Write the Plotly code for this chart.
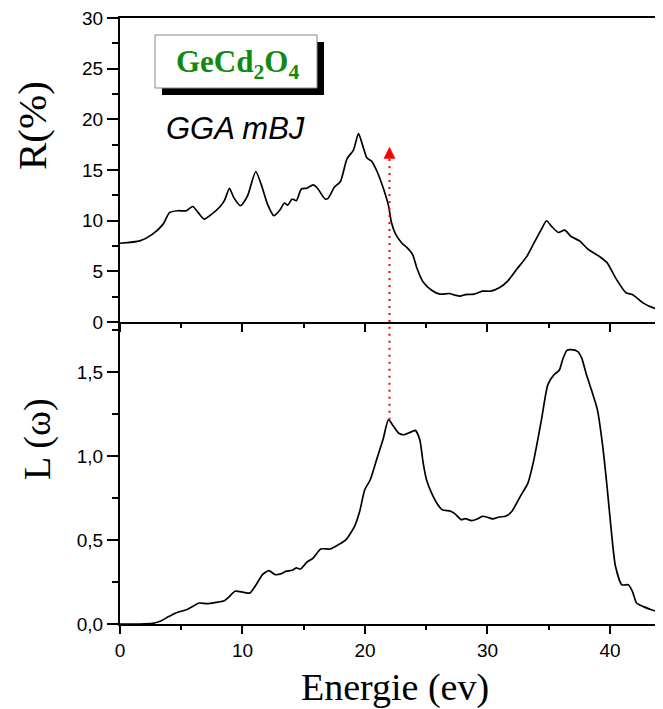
import plotly.graph_objects as go

# Reflectivity R(%) vs energy (top panel)
energy_r = [0, 1.62, 2.66, 3.52, 4.04, 4.73, 5.42, 5.94, 6.38, 6.87, 7.49, 8.18, 8.52, 8.94, 9.28,
            9.84, 10.42, 11.08, 11.56, 12.04, 12.56, 13.01, 13.43, 13.7, 14.05, 14.39, 14.81,
            15.25, 15.77, 16.12, 16.74, 16.98, 17.5, 18.0, 18.53, 19.05, 19.47, 19.81, 20.16,
            20.54, 20.95, 21.47, 21.92, 22.16, 22.5, 23.02, 23.43, 23.88, 24.23, 24.75, 25.44,
            26.13, 26.89, 27.33, 27.78, 28.2, 28.89, 29.58, 30.27, 30.96, 31.65, 32.34, 33.2,
            33.89, 34.41, 34.82, 35.27, 35.79, 36.31, 36.83, 37.52, 38.21, 39.07, 39.76, 40.45,
            41.31, 41.83, 42.69, 43.56, 44.35]
reflectivity = [7.77, 8.0, 8.67, 9.66, 10.8, 10.98, 10.98, 11.4, 10.8, 10.15, 10.65, 11.4, 11.97,
                13.2, 12.3, 11.48, 12.47, 14.85, 13.46, 11.64, 10.49, 10.98, 11.74, 11.54, 12.14,
                11.97, 13.13, 13.2, 13.53, 13.2, 12.14, 12.2, 13.3, 13.86, 16.1, 16.94, 18.59,
                17.43, 16.18, 15.88, 14.95, 13.3, 11.48, 9.82, 8.67, 7.77, 7.34, 6.68, 5.36,
                3.94, 3.14, 2.75, 2.81, 2.65, 2.55, 2.71, 2.75, 3.04, 3.04, 3.37, 4.04, 5.13,
                6.45, 8.0, 9.16, 9.99, 9.39, 8.83, 9.06, 8.44, 8.0, 7.18, 6.52, 5.86, 4.37,
                2.88, 2.71, 1.89, 1.39, 1.22]

# Energy loss L(omega) vs energy (bottom panel)
energy_l = [0, 1.62, 2.66, 3.28, 3.87, 4.56, 5.42, 5.94, 6.45, 7.14, 7.83, 8.52, 8.94, 9.39,
            10.08, 10.6, 11.11, 11.63, 12.15, 12.67, 13.18, 13.53, 14.05, 14.39, 14.74, 15.25,
            15.77, 16.39, 17.15, 17.84, 18.46, 19.15, 19.57, 19.98, 20.43, 20.95, 21.47, 21.92,
            22.33, 22.74, 23.19, 23.54, 23.88, 24.12, 24.47, 24.75, 25.02, 25.44, 25.95, 26.3,
            26.99, 27.33, 27.85, 28.2, 28.71, 29.16, 29.58, 30.1, 30.44, 30.96, 31.48, 32.0,
            32.68, 33.3, 33.79, 34.41, 34.93, 35.44, 35.86, 36.14, 36.48, 36.83, 37.35, 37.69,
            38.04, 38.48, 38.97, 39.41, 39.76, 40.1, 40.45, 40.97, 41.49, 41.83, 42.17, 42.69,
            43.38, 44.35]
loss = [0, 0, 0.004, 0.016, 0.04, 0.066, 0.085, 0.105, 0.125, 0.121, 0.129, 0.139, 0.165, 0.195,
        0.189, 0.185, 0.234, 0.294, 0.318, 0.294, 0.3, 0.314, 0.32, 0.334, 0.328, 0.368, 0.393,
        0.447, 0.447, 0.473, 0.503, 0.582, 0.672, 0.8, 0.86, 0.98, 1.099, 1.218, 1.178, 1.138,
        1.128, 1.138, 1.148, 1.154, 1.099, 0.96, 0.86, 0.78, 0.711, 0.681, 0.672, 0.658, 0.622,
        0.628, 0.616, 0.626, 0.642, 0.634, 0.626, 0.638, 0.642, 0.672, 0.761, 0.84, 0.98,
        1.218, 1.427, 1.486, 1.512, 1.576, 1.631, 1.635, 1.625, 1.586, 1.496, 1.397, 1.278,
        1.059, 0.821, 0.562, 0.344, 0.234, 0.234, 0.195, 0.125, 0.105, 0.085, 0.066]

r_tickvals = [0, 5, 10, 15, 20, 25, 30]
r_ticktext = ["0", "5", "10", "15", "20", "25", "30"]
l_tickvals = [0, 0.5, 1.0, 1.5]
l_ticktext = ["0,0", "0,5", "1,0", "1,5"]
x_tickvals = [0, 10, 20, 30, 40]
x_ticktext = ["0", "10", "20", "30", "40"]

# Red dotted marker line (energy position, top end in R, bottom end in L)
arrow_x = 22.0
arrow_top_r = 17.3
arrow_bottom_l = 1.218

SANS = "Liberation Sans, Arial, sans-serif"
SERIF = "Liberation Serif, Times New Roman, serif"

fig = go.Figure()
fig.add_trace(go.Scatter(x=energy_r, y=reflectivity, mode="lines",
                         line=dict(color="black", width=1.7, shape="spline", smoothing=0.6),
                         xaxis="x", yaxis="y", showlegend=False, hoverinfo="skip"))
fig.add_trace(go.Scatter(x=energy_l, y=loss, mode="lines",
                         line=dict(color="black", width=1.7, shape="spline", smoothing=0.6),
                         xaxis="x2", yaxis="y2", showlegend=False, hoverinfo="skip"))

x_range = [0, 44.33]
common_x = dict(range=x_range, showline=True, linecolor="black", linewidth=2, showgrid=False, zeroline=False,
                ticks="outside", ticklen=8, tickwidth=2, tickcolor="black",
                tickvals=x_tickvals, ticktext=x_ticktext, ticklabeloverflow="allow",
                minor=dict(dtick=5, ticks="outside", ticklen=4, tickwidth=2, tickcolor="black", showgrid=False),
                tickfont=dict(family=SANS, size=19, color="black"))
common_y = dict(showline=True, linecolor="black", linewidth=2, showgrid=False, zeroline=False,
                ticks="outside", ticklen=11, tickwidth=2, tickcolor="black", ticklabeloverflow="allow",
                tickfont=dict(family=SANS, size=19, color="black"))

# The page body adds an 8px offset, so the figure is 8px smaller and shifted.
split = 302 / 606
fig.update_layout(
    width=655, height=701,
    margin=dict(l=112, r=0, t=10, b=85),
    paper_bgcolor="white", plot_bgcolor="white",
    xaxis=dict(**common_x, domain=[0, 1], anchor="y", showticklabels=False, mirror=True),
    yaxis=dict(**common_y, domain=[split, 1], range=[0, 30], anchor="x",
               tickvals=r_tickvals, ticktext=r_ticktext,
               minor=dict(dtick=2.5, ticks="outside", ticklen=6, tickwidth=2, tickcolor="black", showgrid=False)),
    xaxis2=dict(**common_x, domain=[0, 1], anchor="y2", showticklabels=True),
    yaxis2=dict(**common_y, domain=[0, split], range=[0, 1.8], anchor="x2",
                tickvals=l_tickvals, ticktext=l_ticktext,
                minor=dict(dtick=0.25, ticks="outside", ticklen=6, tickwidth=2, tickcolor="black", showgrid=False)),
)

# Dotted red line across both panels
fig.add_shape(type="line", xref="x", yref="y", x0=arrow_x, x1=arrow_x, y0=0, y1=arrow_top_r - 0.6,
              line=dict(color="red", width=2, dash="2px,5px"))
fig.add_shape(type="line", xref="x2", yref="y2", x0=arrow_x, x1=arrow_x, y0=arrow_bottom_l, y1=1.8,
              line=dict(color="red", width=2, dash="2px,5px"))
fig.add_annotation(xref="x", yref="y", x=arrow_x, y=arrow_top_r, ax=0, ay=12, axref="pixel", ayref="pixel",
                   text="", showarrow=True, arrowhead=2, arrowsize=1.2, arrowwidth=2, arrowcolor="red", standoff=0)

# page-pixel -> data conversion helpers for the top panel
def px_to_x(px):
    return (px - 120) / (543 / x_range[1])

def py_to_r(py):
    return (322.0 - py) / (304.0 / 30)

fig.add_shape(type="rect", xref="x", yref="y", x0=px_to_x(162), x1=px_to_x(324), y0=py_to_r(95), y1=py_to_r(42),
              fillcolor="black", line=dict(width=0), layer="above")
fig.add_shape(type="rect", xref="x", yref="y", x0=px_to_x(155), x1=px_to_x(317), y0=py_to_r(88), y1=py_to_r(35),
              fillcolor="white", line=dict(color="#888888", width=1), layer="above")
fig.add_annotation(xref="x", yref="y", x=px_to_x(237), y=py_to_r(64), showarrow=False,
                   text="<b>GeCd<sub>2</sub>O<sub>4</sub></b>",
                   font=dict(family=SERIF, size=31, color="#108a10"))
fig.add_annotation(xref="x", yref="y", x=px_to_x(235), y=py_to_r(128), showarrow=False,
                   text="<i>GGA mBJ</i>", font=dict(family=SANS, size=31, color="black"))

# Axis titles (page pixel centres converted to paper coords)
def paper_x(px):
    return (px - 120) / 543

def paper_y(py):
    return (624 - py) / 606

fig.add_annotation(xref="paper", yref="paper", x=paper_x(395), y=paper_y(687),
                   xanchor="center", yanchor="middle", showarrow=False, text="Energie (ev)",
                   font=dict(family=SERIF, size=38, color="black"))
fig.add_annotation(xref="paper", yref="paper", x=paper_x(32), y=paper_y(126),
                   xanchor="center", yanchor="middle", showarrow=False, textangle=-90, text="R(%)",
                   font=dict(family=SERIF, size=41, color="black"))
fig.add_annotation(xref="paper", yref="paper", x=paper_x(37), y=paper_y(439),
                   xanchor="center", yanchor="middle", showarrow=False, textangle=-90, text="L (ω)",
                   font=dict(family=SERIF, size=38, color="black"))

fig.write_html("out.html")
